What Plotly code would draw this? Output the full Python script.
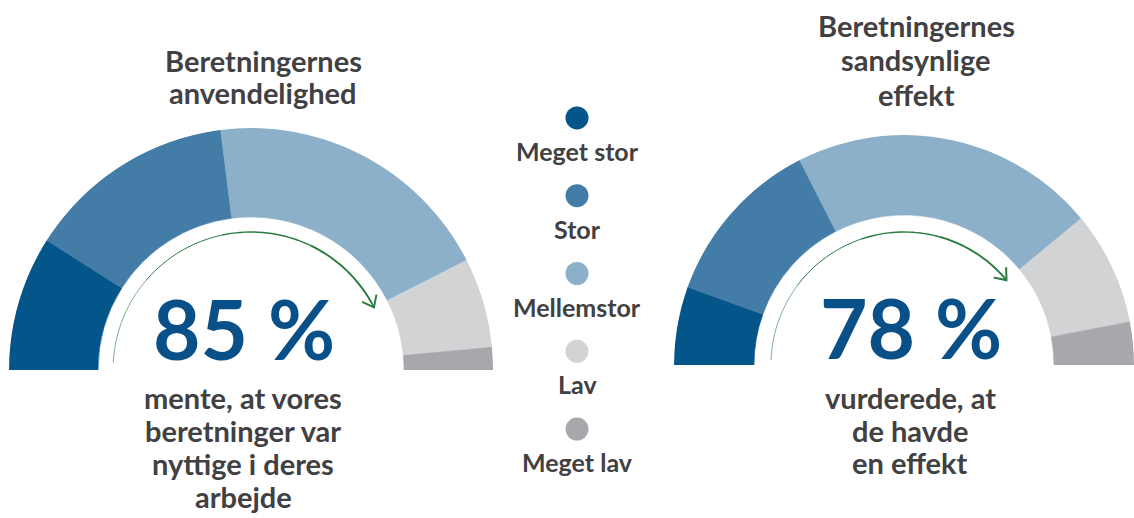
import numpy as np
import plotly.graph_objects as go

# ---------------- data ----------------
levels = ["Meget stor", "Stor", "Mellemstor", "Lav", "Meget lav"]
level_colors = ["#04558a", "#437ca6", "#8db0ca", "#d2d3d5", "#a6a8ab"]

anv_values = [18, 28, 39, 12, 3]   # Beretningernes anvendelighed (%)
eff_values = [11, 24, 43, 16, 6]   # Beretningernes sandsynlige effekt (%)

anv_pct = 85
eff_pct = 78

anv_title = ["Beretningernes", "anvendelighed"]
eff_title = ["Beretningernes", "sandsynlige", "effekt"]
anv_sub = ["mente, at vores", "beretninger var", "nyttige i deres", "arbejde"]
eff_sub = ["vurderede, at", "de havde", "en effekt"]

# ---------------- style ----------------
W, H = 1134, 518
FONT = "Lato"
TXT = "#414042"
BIG = "#0a5088"
GREEN = "#2a7b40"

fig = go.Figure()


def gauge(values, pct, subplot, radius_px, hole, arc_r, arc_start):
    vals = np.array(values, dtype=float)
    cum = np.cumsum(vals)
    centers = (cum - vals / 2) * 1.8
    widths = vals * 1.8
    fig.add_trace(go.Barpolar(
        r=[1 - hole] * len(vals), base=[hole] * len(vals),
        theta=centers, width=widths,
        marker=dict(color=level_colors, line=dict(color=level_colors, width=0.6)),
        subplot=subplot, showlegend=False, hoverinfo="skip"))
    # green arrow: arc from the start up to the share with at least "Mellemstor"
    th_end = pct * 1.8
    th = np.linspace(arc_start, th_end, 81)
    seg_w = [0.6, 1.0, 1.4, 1.9]
    for k, lw in enumerate(seg_w):
        seg = th[k * 20:(k + 1) * 20 + 1]
        fig.add_trace(go.Scatterpolar(
            r=[arc_r] * len(seg), theta=seg, mode="lines",
            line=dict(color=GREEN, width=lw), subplot=subplot,
            showlegend=False, hoverinfo="skip"))
    # chevron arrowhead
    phi = np.radians(180 - th_end)
    tip = arc_r * np.array([np.cos(phi), np.sin(phi)])
    back = -np.array([np.sin(phi), -np.cos(phi)])
    arm = 13 / radius_px
    rs, ts = [], []
    for a in (np.radians(38), 0.0, np.radians(-38)):
        if a == 0.0:
            rs.append(arc_r)
            ts.append(th_end)
            continue
        d = np.array([back[0] * np.cos(a) - back[1] * np.sin(a),
                      back[0] * np.sin(a) + back[1] * np.cos(a)])
        q = tip + arm * d
        rs.append(float(np.hypot(q[0], q[1])))
        ts.append(float(180 - np.degrees(np.arctan2(q[1], q[0]))))
    fig.add_trace(go.Scatterpolar(
        r=rs, theta=ts, mode="lines", line=dict(color=GREEN, width=2),
        subplot=subplot, showlegend=False, hoverinfo="skip"))


gauge(anv_values, anv_pct, "polar", 242, 153 / 242, 138 / 242, 3)
gauge(eff_values, eff_pct, "polar2", 230, 150 / 230, 133 / 230, 2)

# legend (circles + labels)
fig.add_trace(go.Scatter(
    x=[0] * len(levels), y=levels, mode="markers",
    marker=dict(size=23, color=level_colors, line=dict(width=0)),
    showlegend=False, hoverinfo="skip", xaxis="x", yaxis="y"))
for lv in levels:
    fig.add_annotation(x=0, y=lv, xref="x", yref="y", text=lv, showarrow=False,
                       yshift=-33, font=dict(family=FONT, size=25, color=TXT, weight="bold"))


def add_lines(lines, xc, first_base, spacing, size, color):
    for i, t in enumerate(lines):
        base = first_base + i * spacing
        yc = base - 0.42 * size
        fig.add_annotation(x=xc / W, y=1 - yc / H, xref="paper", yref="paper",
                           text=t, showarrow=False, xanchor="center", yanchor="middle",
                           font=dict(family=FONT, size=size, color=color, weight="bold"))


add_lines(anv_title, 263, 72.5, 32.6, 29, TXT)
add_lines(eff_title, 916, 37.3, 34.7, 29, TXT)
add_lines(anv_sub, 243, 410, 32.8, 29, TXT)
add_lines(eff_sub, 910, 410, 32.2, 29, TXT)
add_lines([f"{anv_pct} %"], 243.5, 362, 0, 82, BIG)
add_lines([f"{eff_pct} %"], 911, 361, 0, 82, BIG)

polar_common = dict(
    sector=[0, 180], hole=0, bgcolor="rgba(0,0,0,0)", bargap=0,
    radialaxis=dict(range=[0, 1], visible=False, showgrid=False),
    angularaxis=dict(visible=False, direction="clockwise", rotation=180,
                     showgrid=False),
)

fig.update_layout(
    width=W, height=H,
    margin=dict(l=0, r=0, t=0, b=0),
    paper_bgcolor="white", plot_bgcolor="white",
    template="none",
    polar=dict(domain=dict(x=[9 / W, 493 / W], y=[1 - 370 / H, 1 - 128 / H]), **polar_common),
    polar2=dict(domain=dict(x=[674 / W, 1.0], y=[1 - 365 / H, 1 - 135 / H]), **polar_common),
    xaxis=dict(domain=[552 / W, 602 / W], range=[-1, 1], visible=False, fixedrange=True),
    yaxis=dict(domain=[1 - 468 / H, 1 - 79 / H], range=[4.5, -0.5], visible=False,
               type="category", categoryorder="array", categoryarray=levels),
    showlegend=False,
)

fig.write_html("out.html", config={"displayModeBar": False},
               post_script="document.body.style.margin='0';document.body.style.overflow='hidden';")
